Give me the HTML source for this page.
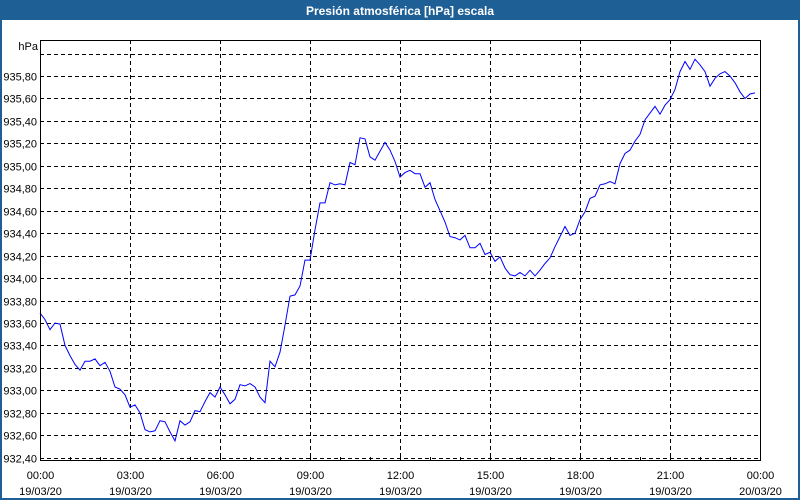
<!DOCTYPE html>
<html><head><meta charset="utf-8">
<style>
html,body{margin:0;padding:0;background:#fff;}
svg{display:block;font-family:"Liberation Sans",Tahoma,sans-serif;}
</style></head>
<body>
<svg id="chart" width="800" height="500" viewBox="0 0 800 500">
  <rect x="0" y="0" width="800" height="500" fill="#1e5f96"/>
  <rect x="2" y="20" width="796" height="478" fill="#ffffff"/>
  <text x="400" y="15" text-anchor="middle" fill="#ffffff" font-size="12" font-weight="bold">Presión atmosférica [hPa] escala</text>
  <text x="38" y="50" text-anchor="end" font-size="11" fill="#000">hPa</text>
  <g id="grid"></g>
  <g id="axes"></g>
  <polyline id="series" fill="none" stroke="#0000ff" stroke-width="1"/>
  <rect x="40.5" y="40.5" width="720" height="420" fill="none" stroke="#000" stroke-width="1"/>
</svg>
<script>
const yTicks = [932.4,932.6,932.8,933.0,933.2,933.4,933.6,933.8,934.0,934.2,934.4,934.6,934.8,935.0,935.2,935.4,935.6,935.8,936.0];
const yTickLabels = ["932,40","932,60","932,80","933,00","933,20","933,40","933,60","933,80","934,00","934,20","934,40","934,60","934,80","935,00","935,20","935,40","935,60","935,80",""];
const xTickHours = [0,3,6,9,12,15,18,21,24];
const xTickTimes = ["00:00","03:00","06:00","09:00","12:00","15:00","18:00","21:00","00:00"];
const xTickDates = ["19/03/20","19/03/20","19/03/20","19/03/20","19/03/20","19/03/20","19/03/20","19/03/20","20/03/20"];
const stepMinutes = 10;
const pressure = [
933.69,933.63,933.54,933.60,933.59,933.40,933.31,933.23,933.18,933.26,
933.26,933.28,933.22,933.25,933.17,933.03,933.01,932.96,932.85,932.87,
932.80,932.65,932.63,932.64,932.73,932.72,932.63,932.55,932.73,932.69,
932.72,932.82,932.81,932.90,932.98,932.94,933.03,932.96,932.88,932.92,
933.05,933.04,933.06,933.03,932.94,932.89,933.26,933.21,933.34,933.58,
933.84,933.85,933.93,934.16,934.16,934.43,934.67,934.67,934.85,934.83,
934.84,934.83,935.03,935.01,935.25,935.24,935.08,935.05,935.13,935.21,
935.14,935.04,934.90,934.94,934.96,934.93,934.93,934.81,934.85,934.70,
934.60,934.50,934.37,934.36,934.34,934.38,934.27,934.27,934.31,934.21,
934.23,934.15,934.19,934.09,934.03,934.02,934.05,934.02,934.07,934.02,
934.07,934.13,934.18,934.28,934.37,934.46,934.38,934.40,934.52,934.59,
934.71,934.73,934.83,934.84,934.86,934.84,935.02,935.11,935.14,935.22,
935.28,935.41,935.47,935.53,935.46,935.54,935.59,935.68,935.84,935.93,
935.86,935.95,935.90,935.84,935.71,935.78,935.82,935.84,935.80,935.74,
935.66,935.60,935.64,935.65];

const NS = "http://www.w3.org/2000/svg";
const X0 = 40, X1 = 760, PXH = (X1 - X0) / 24;
const Y0val = 932.4, Y0px = 457.7, PX_PER = 22.45 / 0.2;
function xScale(h){ return X0 + h * PXH; }
function yScale(v){ return Y0px - (v - Y0val) * PX_PER; }
function mk(tag, attrs, parent){
  const e = document.createElementNS(NS, tag);
  for (const k in attrs) e.setAttribute(k, attrs[k]);
  parent.appendChild(e);
  return e;
}
const grid = document.getElementById("grid");
const axes = document.getElementById("axes");

yTicks.forEach((v, i) => {
  const y = Math.round(yScale(v)) + 0.5;
  const l = mk("line", {x1: X0, x2: X1, y1: y, y2: y, stroke: "#000", "stroke-dasharray": "4,3", "stroke-width": 1}, grid);
  
  
  if (yTickLabels[i]) {
    const t = mk("text", {x: 37, y: y + 4, "text-anchor": "end", "font-size": 11, fill: "#000"}, axes);
    t.textContent = yTickLabels[i];
    
    
  }
});

xTickHours.forEach((h, i) => {
  const x = Math.round(xScale(h)) + 0.5;
  if (h > 0 && h < 24) {
    const l = mk("line", {x1: x, x2: x, y1: 40, y2: 460, stroke: "#000", "stroke-dasharray": "4,3", "stroke-width": 1}, grid);
    
    
  }
  const t1 = mk("text", {x: x, y: 479, "text-anchor": "middle", "font-size": 11, fill: "#000"}, axes);
  t1.textContent = xTickTimes[i];
  
  
  const t2 = mk("text", {x: x, y: 495, "text-anchor": "middle", "font-size": 11, fill: "#000"}, axes);
  t2.textContent = xTickDates[i];
  
  
});
for (let h = 1; h < 24; h++) {
  const x = Math.round(xScale(h)) + 0.5;
  const m = mk("line", {x1: x, x2: x, y1: 457, y2: 461, stroke: "#000", "stroke-width": 1}, axes);
  
  
}

const pts = pressure.map((v, i) => xScale(i * stepMinutes / 60).toFixed(1) + "," + yScale(v).toFixed(1));
document.getElementById("series").setAttribute("points", pts.join(" "));
</script>
</body></html>
